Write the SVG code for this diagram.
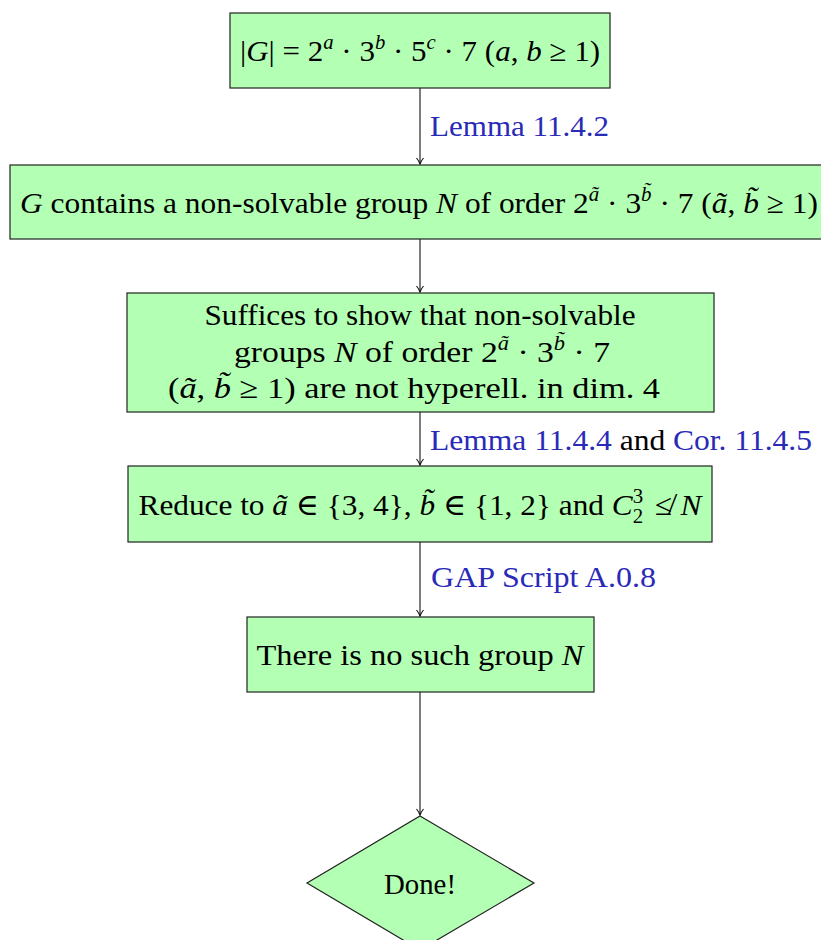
<svg xmlns="http://www.w3.org/2000/svg" width="821" height="940" viewBox="0 0 821 940">
<style>
.box{fill:#b3ffb3;stroke:#222;stroke-width:1.2}
.t{font-family:"Liberation Serif","DejaVu Serif",serif;font-size:30px;fill:#000}
.c{text-anchor:middle}
.i{font-style:italic}
.s{font-size:20px}
.lab{font-family:"Liberation Serif","DejaVu Serif",serif;font-size:30px;fill:#2a2ab8}
.blk{fill:#000}
.edge{stroke:#111;stroke-width:1.1;fill:none}
</style>
<defs>
<marker id="ah" markerWidth="10" markerHeight="10" refX="8" refY="5" orient="auto" markerUnits="userSpaceOnUse">
<path d="M2,1.5 Q5,4 8,5 Q5,6 2,8.5" fill="none" stroke="#111" stroke-width="1.1"/>
</marker>
</defs>
<g id="connectors">
<line class="edge" x1="420" y1="88" x2="420" y2="164" marker-end="url(#ah)"/>
<line class="edge" x1="420" y1="239" x2="420" y2="292" marker-end="url(#ah)"/>
<line class="edge" x1="420" y1="412" x2="420" y2="465" marker-end="url(#ah)"/>
<line class="edge" x1="420" y1="542" x2="420" y2="616" marker-end="url(#ah)"/>
<line class="edge" x1="420" y1="692" x2="420" y2="815" marker-end="url(#ah)"/>
<text class="lab" x="430" y="136" textLength="179" lengthAdjust="spacingAndGlyphs">Lemma 11.4.2</text>
<text class="lab" x="430" y="450" textLength="382" lengthAdjust="spacingAndGlyphs">Lemma 11.4.4 <tspan class="blk">and</tspan> Cor. 11.4.5</text>
<text class="lab" x="431" y="587" textLength="225" lengthAdjust="spacingAndGlyphs">GAP Script A.0.8</text>
</g>
<g id="n1">
<rect class="box" x="230" y="13" width="380" height="75"/>
<text class="t c" x="420" y="61" textLength="360" lengthAdjust="spacingAndGlyphs">|<tspan class="i">G</tspan>| = 2<tspan class="s i" dy="-12">a</tspan><tspan dy="12"> · 3</tspan><tspan class="s i" dy="-12">b</tspan><tspan dy="12"> · 5</tspan><tspan class="s i" dy="-12">c</tspan><tspan dy="12"> · 7 (</tspan><tspan class="i">a</tspan>, <tspan class="i">b</tspan> ≥ 1)</text>
</g>
<g id="n2">
<rect class="box" x="10" y="165" width="820" height="74"/>
<text class="t c" x="419" y="213" textLength="798" lengthAdjust="spacingAndGlyphs"><tspan class="i">G</tspan> contains a non-solvable group <tspan class="i">N</tspan> of order 2<tspan class="s i" dy="-12">ã</tspan><tspan dy="12"> · 3</tspan><tspan class="s i" dy="-12">b̃</tspan><tspan dy="12"> · 7 (</tspan><tspan class="i">ã</tspan>, <tspan class="i">b̃</tspan> ≥ 1)</text>
</g>
<g id="n3">
<rect class="box" x="127" y="293" width="587" height="119"/>
<text class="t c" x="420" y="325" textLength="431" lengthAdjust="spacingAndGlyphs">Suffices to show that non-solvable</text>
<text class="t c" x="422" y="362" textLength="376" lengthAdjust="spacingAndGlyphs">groups <tspan class="i">N</tspan> of order 2<tspan class="s i" dy="-12">ã</tspan><tspan dy="12">  ·  3</tspan><tspan class="s i" dy="-12">b̃</tspan><tspan dy="12">  ·  7</tspan></text>
<text class="t c" x="414" y="398" textLength="492" lengthAdjust="spacingAndGlyphs">(<tspan class="i">ã</tspan>, <tspan class="i">b̃</tspan>  ≥  1) are not hyperell.  in dim.  4</text>
</g>
<g id="n4">
<rect class="box" x="128" y="466" width="584" height="76"/>
<text class="t c" x="420" y="515" textLength="563" lengthAdjust="spacingAndGlyphs">Reduce to <tspan class="i">ã</tspan> ∈ {3, 4}, <tspan class="i">b̃</tspan> ∈ {1, 2} and <tspan class="i">C</tspan><tspan class="s" dy="-12">3</tspan><tspan class="s" dx="-10" dy="20">2</tspan><tspan dy="-8" dx="4"> ≰</tspan><tspan class="i" dx="8">N</tspan></text>
</g>
<g id="n5">
<rect class="box" x="247" y="617" width="347" height="75"/>
<text class="t c" x="420" y="665" textLength="327" lengthAdjust="spacingAndGlyphs">There is no such group <tspan class="i">N</tspan></text>
</g>
<g id="n6">
<polygon class="box" points="420,816 534,883 420,950 307,883"/>
<text class="t c" x="420" y="894" textLength="72" lengthAdjust="spacingAndGlyphs">Done!</text>
</g>
</svg>
